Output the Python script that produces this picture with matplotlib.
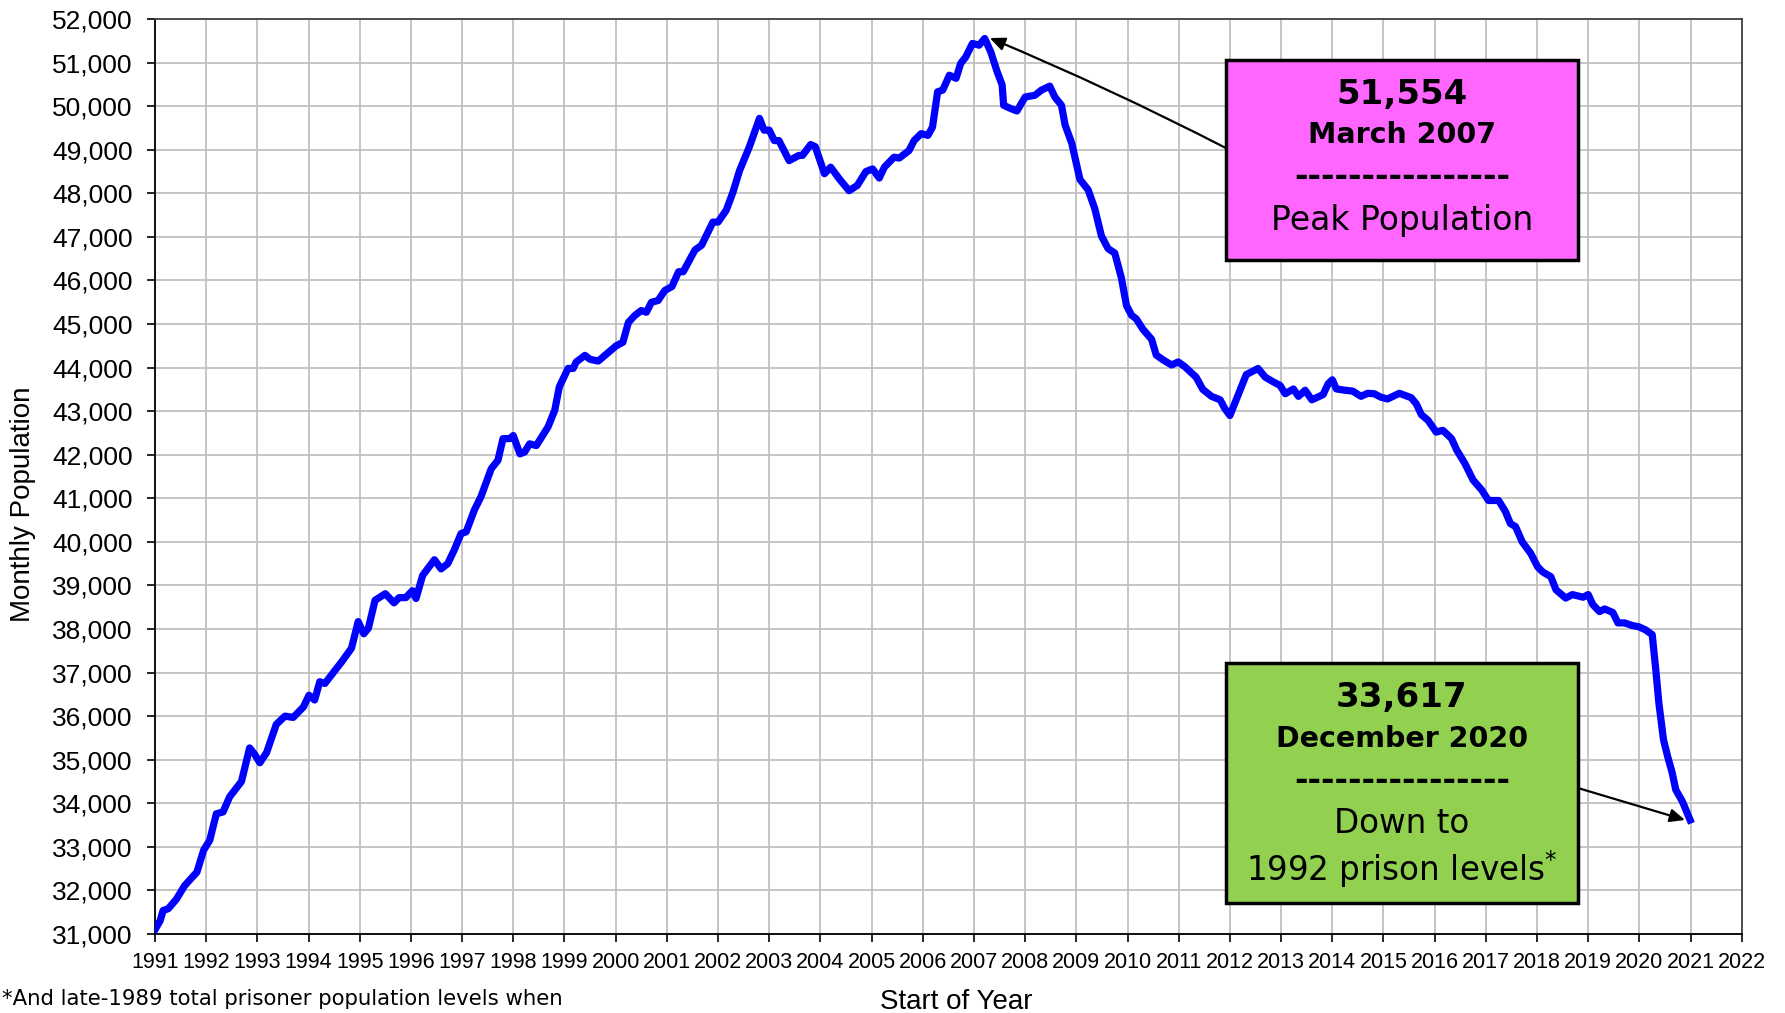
import matplotlib.pyplot as plt
from matplotlib.ticker import FuncFormatter, MultipleLocator

# month positions (fractional year) and population
yr = [1991.00, 1991.10, 1991.16, 1991.26, 1991.42, 1991.58, 1991.82, 1991.95,
      1992.07, 1992.20, 1992.33, 1992.46, 1992.69, 1992.85, 1992.95,
      1993.05, 1993.18, 1993.37, 1993.54, 1993.70, 1993.90,
      1994.01, 1994.12, 1994.22, 1994.32, 1994.65, 1994.84, 1994.97,
      1995.08, 1995.17, 1995.30, 1995.50, 1995.67, 1995.77, 1995.90,
      1996.03, 1996.10, 1996.23, 1996.46, 1996.59, 1996.72, 1996.85, 1996.98,
      1997.08, 1997.24, 1997.37, 1997.57, 1997.70, 1997.80, 1997.93,
      1998.00, 1998.13, 1998.22, 1998.32, 1998.45, 1998.68, 1998.81, 1998.90,
      1999.07, 1999.17, 1999.23, 1999.40, 1999.50, 1999.66, 1999.82,
      2000.01, 2000.14, 2000.25, 2000.37, 2000.50, 2000.60, 2000.70, 2000.83, 2000.96,
      2001.10, 2001.23, 2001.32, 2001.55, 2001.68, 2001.90,
      2002.00, 2002.16, 2002.29, 2002.42, 2002.61, 2002.81, 2002.90,
      2003.00, 2003.10, 2003.19, 2003.39, 2003.58, 2003.65, 2003.81, 2003.90,
      2004.08, 2004.20, 2004.37, 2004.56, 2004.72, 2004.89,
      2005.02, 2005.15, 2005.25, 2005.44, 2005.54, 2005.73, 2005.83, 2005.97,
      2006.10, 2006.19, 2006.29, 2006.39, 2006.52, 2006.65, 2006.74, 2006.84, 2006.97,
      2007.10, 2007.21, 2007.33, 2007.45, 2007.55, 2007.58, 2007.71, 2007.84,
      2008.00, 2008.19, 2008.32, 2008.48, 2008.58, 2008.71, 2008.78, 2008.91,
      2009.07, 2009.23, 2009.36, 2009.49, 2009.62, 2009.75, 2009.88, 2009.98,
      2010.08, 2010.17, 2010.30, 2010.47, 2010.56, 2010.69, 2010.86, 2010.99,
      2011.12, 2011.34, 2011.47, 2011.64, 2011.81, 2011.90,
      2012.00, 2012.15, 2012.32, 2012.42, 2012.55, 2012.69, 2012.85, 2012.98,
      2013.08, 2013.24, 2013.34, 2013.47, 2013.60, 2013.82, 2013.92,
      2014.00, 2014.08, 2014.25, 2014.40, 2014.56, 2014.69, 2014.82, 2014.95,
      2015.08, 2015.31, 2015.54, 2015.64, 2015.74, 2015.87,
      2016.03, 2016.16, 2016.33, 2016.43, 2016.59, 2016.75, 2016.92,
      2017.05, 2017.25, 2017.38, 2017.48, 2017.58, 2017.71, 2017.88,
      2018.01, 2018.11, 2018.27, 2018.37, 2018.56, 2018.69, 2018.90,
      2019.00, 2019.09, 2019.22, 2019.32, 2019.48, 2019.58, 2019.71, 2019.86, 2019.99,
      2020.12, 2020.25, 2020.32, 2020.38, 2020.47, 2020.55, 2020.64, 2020.71, 2020.84, 2020.99]

pop = [31100, 31300, 31540, 31580, 31800, 32110, 32420, 32920,
       33150, 33760, 33800, 34150, 34500, 35270, 35120,
       34930, 35160, 35810, 36000, 35970, 36210,
       36480, 36370, 36790, 36750, 37250, 37560, 38170,
       37890, 38020, 38660, 38810, 38600, 38720, 38720,
       38880, 38700, 39230, 39590, 39380, 39500, 39820, 40190,
       40230, 40730, 41040, 41680, 41870, 42370, 42370,
       42440, 42020, 42060, 42250, 42210, 42640, 43020, 43560,
       43980, 43980, 44130, 44280, 44190, 44150, 44310,
       44500, 44580, 45040, 45190, 45310, 45270, 45500, 45540, 45770,
       45860, 46200, 46200, 46700, 46810, 47340,
       47340, 47610, 48020, 48520, 49060, 49720, 49450,
       49450, 49210, 49210, 48750, 48870, 48870, 49120, 49070,
       48450, 48600, 48330, 48060, 48180, 48500,
       48560, 48350, 48600, 48830, 48810, 48980, 49210, 49370,
       49330, 49520, 50330, 50370, 50710, 50640, 50980, 51130, 51440,
       51400, 51554, 51240, 50800, 50490, 50020, 49950, 49890,
       50210, 50250, 50370, 50460, 50210, 50020, 49570, 49150,
       48320, 48080, 47650, 47020, 46730, 46630, 46060, 45420,
       45200, 45120, 44880, 44650, 44290, 44180, 44060, 44130,
       44020, 43780, 43500, 43340, 43260, 43060,
       42900, 43340, 43840, 43900, 43980, 43780, 43670, 43590,
       43400, 43510, 43340, 43480, 43260, 43380, 43630,
       43720, 43510, 43480, 43460, 43340, 43410, 43400, 43320,
       43280, 43410, 43310, 43170, 42920, 42790,
       42520, 42560, 42370, 42110, 41800, 41420, 41190,
       40950, 40950, 40700, 40420, 40350, 40000, 39730,
       39430, 39310, 39200, 38900, 38710, 38790, 38730,
       38790, 38560, 38400, 38460, 38380, 38140, 38140, 38080, 38050,
       37980, 37870, 37060, 36300, 35460, 35080, 34700, 34310, 34040, 33617]

peak_yr, peak_pop = 2007.21, 51554
last_yr, last_pop = 2020.99, 33617

plt.rcParams['font.family'] = ['Liberation Sans', 'DejaVu Sans']

fig = plt.figure(figsize=(17.85, 10.13), dpi=100)
ax = fig.add_axes([0.0868, 0.078, 0.889, 0.9032])

ax.plot(yr, pop, color='#0000FF', lw=5.2, solid_joinstyle='round', zorder=3)

ax.set_xlim(1991, 2022)
ax.set_ylim(31000, 52000)
ax.xaxis.set_major_locator(MultipleLocator(1))
ax.yaxis.set_major_locator(MultipleLocator(1000))
ax.yaxis.set_major_formatter(FuncFormatter(lambda v, p: f"{int(v):,}"))
ax.grid(True, color='#C0C0C0', lw=1.3)
ax.set_axisbelow(True)
ax.tick_params(axis='y', labelsize=19, length=6, width=1.2, pad=10, direction='out')
ax.tick_params(axis='x', labelsize=15.5, length=6, width=1.2, pad=7, direction='out')
for s in ['left', 'bottom']:
    ax.spines[s].set_color('black')
    ax.spines[s].set_linewidth(1.3)
for s in ['top', 'right']:
    ax.spines[s].set_color('#404040')
    ax.spines[s].set_linewidth(1.3)

ax.set_ylabel("Monthly Population", fontsize=20)
ax.yaxis.set_label_coords(-0.075, 0.47)
ax.set_xlabel("Start of Year", fontsize=20)
ax.xaxis.set_label_coords(0.505, -0.06)

box_font = ['DejaVu Sans']
x0, x1 = (1226 - 155) / 1587, (1578 - 155) / 1587


def box(y_top, y_bot, fc):
    yt = (934 - y_top) / 915
    yb = (934 - y_bot) / 915
    r = plt.Rectangle((x0, yb), x1 - x0, yt - yb, transform=ax.transAxes,
                      fc=fc, ec='black', lw=2.5, zorder=5)
    ax.add_patch(r)


def txt(y_px, s, size, weight='normal'):
    ax.text((x0 + x1) / 2, (934 - y_px) / 915, s, transform=ax.transAxes,
            ha='center', va='center', fontsize=size, fontweight=weight,
            family=box_font, zorder=6)


box(60, 260, '#FF66FF')
txt(94, f"{peak_pop:,}", 24.5, 'bold')
txt(135, "March 2007", 20.5, 'bold')
txt(176, "----------------", 23.5, 'bold')
txt(220, "Peak Population", 23.8)

box(663, 903, '#92D050')
txt(697, f"{last_pop:,}", 24.5, 'bold')
txt(739, "December 2020", 20.5, 'bold')
txt(781, "----------------", 23.5, 'bold')
txt(824, "Down to", 23.5)
txt(869, "1992 prison levels$^{*}$", 23.5)

ax.annotate("", xy=(peak_yr + 0.1, peak_pop + 10), xytext=(2011.92, 49040),
            arrowprops=dict(arrowstyle='-|>,head_length=0.9,head_width=0.4',
                            color='black', lw=1.6, shrinkA=0, shrinkB=0,
                            connectionstyle='arc3,rad=0.02'), zorder=4)
ax.annotate("", xy=(last_yr - 0.1, last_pop), xytext=(2018.8, 34350),
            arrowprops=dict(arrowstyle='-|>,head_length=0.9,head_width=0.4',
                            color='black', lw=1.6, shrinkA=0, shrinkB=0), zorder=4)

fig.text(0.001, 1 - 999 / 1013, "*And late-1989 total prisoner population levels when",
         fontsize=15.3, family=box_font, va='center', ha='left')

fig.savefig("out.png", dpi=100)
